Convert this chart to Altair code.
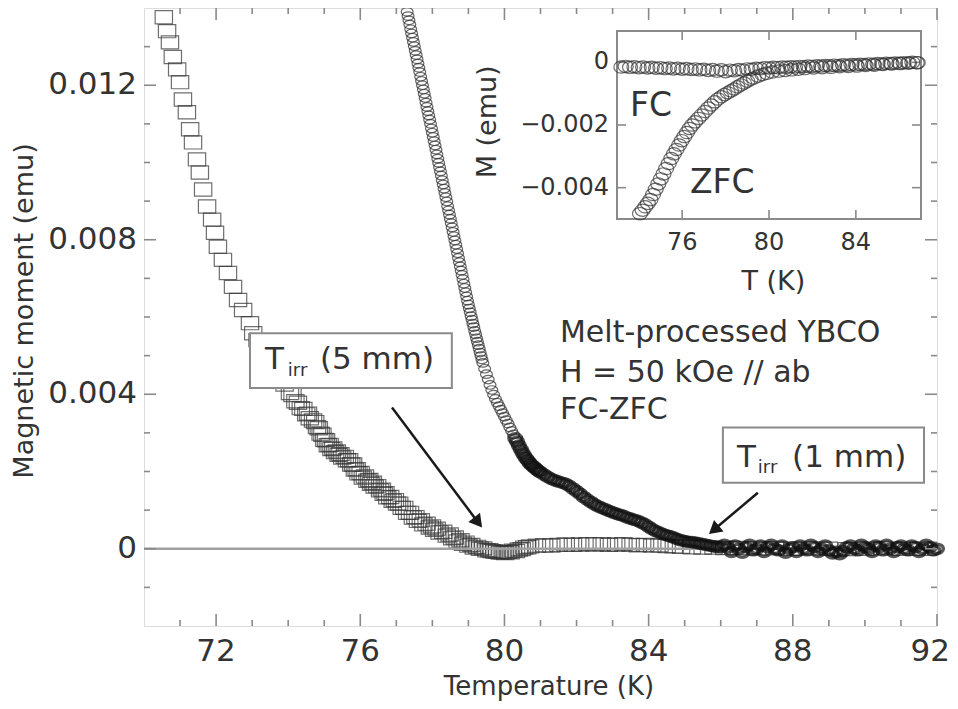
import altair as alt
import pandas as pd

# ---------------- data ----------------
# 5 mm sample (open squares): (T [K], M [emu])
sq_pts = [(70.55,0.01376),(70.64,0.01340),(70.72,0.01311),(70.80,0.01273),(70.92,0.01241),(71.00,0.01208),
(71.08,0.01163),(71.19,0.01130),(71.28,0.01086),(71.36,0.01052),(71.47,0.01008),(71.55,0.00974),(71.64,0.00930),
(71.75,0.00886),(71.89,0.00852),(71.97,0.00818),(72.05,0.00782),(72.19,0.00748),(72.33,0.00714),(72.47,0.00678),
(72.61,0.00644),(72.75,0.00618),(72.94,0.00584),(73.03,0.00558),(73.15,0.00540),(73.30,0.00518),(73.45,0.00494),
(73.60,0.00470),(73.75,0.00447),(73.90,0.00425),(74.05,0.00403),(74.20,0.00382),(74.35,0.00364),(74.50,0.00348),
(74.60,0.00338),(74.69,0.00332),(74.80,0.00315),(74.90,0.00298),(75.00,0.00282),(75.10,0.00268),(75.20,0.00258),
(75.30,0.00250),(75.40,0.00243),(75.50,0.00236),(75.63,0.00229),(75.75,0.00218),(75.85,0.00205),(75.95,0.00195),
(76.07,0.00184),(76.20,0.00176),(76.30,0.00168),(76.40,0.00161),(76.55,0.00151),(76.65,0.00142),(76.75,0.00133),
(76.90,0.00124),(77.02,0.00117),(77.15,0.00106),(77.30,0.00093),(77.46,0.00081),(77.60,0.00072),(77.75,0.00063),
(77.93,0.00055),(78.05,0.00049),(78.20,0.00042),(78.40,0.00034),(78.55,0.00027),(78.70,0.00019),(78.85,0.00013),
(79.00,0.00008),(79.15,0.00003),(79.32,0.00000),(79.50,-0.00004),(79.65,-0.00006),(79.79,-0.00008),(79.95,-0.00009),
(80.10,-0.00008),(80.24,-0.00005),(80.40,-0.00002),(80.55,0.00003),(80.71,0.00006),(80.90,0.00008),(81.10,0.00009),
(81.30,0.00008),(81.50,0.00010),(81.70,0.00011),(81.90,0.00010),(82.10,0.00011),(82.30,0.00012),(82.50,0.00011),
(82.70,0.00012),(82.90,0.00010),(83.10,0.00011),(83.30,0.00012),(83.50,0.00010),(83.70,0.00009),(83.90,0.00010),
(84.10,0.00008),(84.30,0.00009),(84.50,0.00007),(84.70,0.00006),(84.90,0.00005),(85.20,0.00004),(85.50,0.00003),
(85.80,0.00003),(86.10,0.00002),(86.50,0.00002),(87.00,0.00001),(87.50,0.00001),(88.00,0.00000),(88.50,0.00001),
(89.00,0.00000),(89.50,-0.00001),(90.00,0.00000),(90.50,0.00001),(91.00,0.00000),(91.50,0.00000),(92.00,0.00000),
# second pass of points in the dense, scattered part of the band
(74.12,0.00398),(74.27,0.00378),(74.42,0.00362),(74.55,0.00350),(74.75,0.00328),(74.85,0.00312),(74.95,0.00295),
(75.05,0.00281),(75.15,0.00269),(75.25,0.00260),(75.35,0.00252),(75.45,0.00245),(75.57,0.00238),(75.69,0.00229),
(75.80,0.00218),(75.90,0.00206),(76.01,0.00196),(76.13,0.00187),(76.25,0.00178),(76.35,0.00171),(76.47,0.00162),
(76.60,0.00153),(76.70,0.00144),(76.83,0.00134),(76.96,0.00126),(77.08,0.00117),(77.22,0.00106),(77.38,0.00093),
(77.53,0.00082),(77.68,0.00074),(77.84,0.00065),(77.99,0.00058),(78.12,0.00052),(78.30,0.00044),(78.48,0.00037),
(78.62,0.00029),(78.78,0.00022),(78.92,0.00016),(79.08,0.00010),(79.24,0.00005),(79.41,0.00001),(79.58,-0.00004),
(79.72,-0.00007),(79.87,-0.00010),(80.02,-0.00011),(80.17,-0.00009),(80.32,-0.00006),(80.48,-0.00001),(80.63,0.00004)]

# 1 mm sample (open circles), steep part
ci_steep = [(77.300,0.01390),(77.325,0.01379),(77.350,0.01368),(77.375,0.01357),(77.400,0.01345),(77.425,0.01334),
(77.450,0.01323),(77.475,0.01312),(77.500,0.01301),(77.525,0.01289),(77.550,0.01278),(77.575,0.01267),(77.600,0.01256),
(77.625,0.01245),(77.650,0.01234),(77.675,0.01222),(77.700,0.01211),(77.725,0.01200),(77.750,0.01189),(77.775,0.01178),
(77.800,0.01167),(77.825,0.01155),(77.850,0.01144),(77.875,0.01133),(77.900,0.01122),(77.925,0.01111),(77.950,0.01100),
(77.975,0.01088),(78.000,0.01077),(78.025,0.01066),(78.050,0.01055),(78.075,0.01044),(78.100,0.01033),(78.125,0.01021),
(78.150,0.01010),(78.175,0.00999),(78.200,0.00988),(78.225,0.00977),(78.250,0.00966),(78.275,0.00954),(78.300,0.00943),
(78.325,0.00932),(78.350,0.00921),(78.375,0.00910),(78.400,0.00899),(78.425,0.00887),(78.450,0.00876),(78.475,0.00865),
(78.500,0.00854),(78.525,0.00843),(78.550,0.00832),(78.575,0.00820),(78.600,0.00809),(78.625,0.00798),(78.650,0.00787),
(78.675,0.00776),(78.700,0.00765),(78.725,0.00753),(78.750,0.00742),(78.775,0.00731),(78.800,0.00720),(78.825,0.00709),
(78.850,0.00698),(78.875,0.00686),(78.900,0.00675),(78.925,0.00664),(78.950,0.00653),(78.975,0.00642),(79.000,0.00632),
(79.025,0.00622),(79.050,0.00612),(79.075,0.00602),(79.100,0.00593),(79.125,0.00583),(79.150,0.00574),(79.175,0.00564),
(79.200,0.00555),(79.225,0.00545),(79.250,0.00536),(79.275,0.00527),(79.300,0.00518),(79.325,0.00508),(79.350,0.00499),
(79.375,0.00490),(79.400,0.00481),(79.45,0.00466),(79.50,0.00452),(79.55,0.00438),(79.60,0.00424),(79.65,0.00411),
(79.70,0.00399),(79.75,0.00388),(79.80,0.00378),(79.85,0.00369),(79.90,0.00360),(79.95,0.00351),(80.00,0.00342),
(80.05,0.00333),(80.10,0.00324),(80.15,0.00314),(80.20,0.00305),(80.25,0.00296)]

# 1 mm sample, tail (dark dense band)
ci_tail = [(80.30,0.00286),(80.35,0.00277),(80.40,0.00267),(80.45,0.00258),(80.50,0.00249),(80.55,0.00241),
(80.60,0.00234),(80.65,0.00228),(80.70,0.00222),(80.75,0.00217),(80.80,0.00213),(80.85,0.00209),(80.90,0.00205),
(80.95,0.00201),(81.00,0.00198),(81.10,0.00192),(81.20,0.00186),(81.30,0.00181),(81.40,0.00177),(81.50,0.00174),
(81.60,0.00171),(81.70,0.00168),(81.80,0.00163),(81.90,0.00156),(82.00,0.00149),(82.10,0.00142),(82.20,0.00134),
(82.30,0.00127),(82.40,0.00121),(82.50,0.00115),(82.60,0.00110),(82.70,0.00106),(82.80,0.00102),(82.90,0.00098),
(83.00,0.00094),(83.10,0.00091),(83.20,0.00088),(83.30,0.00085),(83.40,0.00081),(83.50,0.00078),(83.60,0.00075),
(83.70,0.00072),(83.80,0.00068),(83.90,0.00063),(84.00,0.00057),(84.10,0.00051),(84.20,0.00046),(84.30,0.00042),
(84.40,0.00038),(84.50,0.00035),(84.60,0.00032),(84.70,0.00029),(84.80,0.00025),(84.90,0.00022),(85.00,0.00020),
(85.10,0.00018),(85.20,0.00017),(85.30,0.00016),(85.40,0.00014),(85.50,0.00012),(85.60,0.00010),(85.70,0.00008),
(85.80,0.00006),(85.90,0.00005),(86.00,0.00004),
(86.10,0.00010),(86.20,0.00003),(86.30,-0.00008),(86.40,0.00008),(86.50,0.00000),(86.60,-0.00010),(86.70,0.00004),
(86.80,0.00010),(86.90,-0.00004),(87.00,0.00000),(87.10,0.00008),(87.20,-0.00008),(87.30,0.00004),(87.40,0.00010),
(87.50,0.00000),(87.60,-0.00004),(87.70,0.00008),(87.80,-0.00010),(87.90,0.00000),(88.00,0.00004),(88.10,-0.00008),
(88.20,0.00008),(88.30,0.00000),(88.40,-0.00004),(88.50,0.00010),(88.60,0.00004),(88.70,-0.00008),(88.80,0.00000),
(88.90,0.00008),(89.00,-0.00004),(89.10,-0.00012),(89.20,-0.00008),(89.30,-0.00014),(89.40,-0.00006),(89.50,0.00004),
(89.60,0.00008),(89.70,0.00000),(89.80,-0.00004),(89.90,0.00010),(90.00,0.00004),(90.10,0.00000),(90.20,-0.00008),
(90.30,0.00008),(90.40,0.00004),(90.50,-0.00004),(90.60,0.00010),(90.70,0.00000),(90.80,-0.00008),(90.90,0.00004),
(91.00,0.00008),(91.10,0.00000),(91.20,-0.00004),(91.30,0.00008),(91.40,0.00004),(91.50,-0.00008),(91.60,0.00000),
(91.70,0.00010),(91.80,0.00004),(91.90,-0.00004),(92.00,0.00000)]

# inset: FC and ZFC curves of the 1 mm sample
fc_pts = [(73.2,-0.00015),(73.4,-0.00013),(73.6,-0.00016),(73.8,-0.00014),(74.0,-0.00017),(74.2,-0.00015),
(74.4,-0.00018),(74.6,-0.00016),(74.8,-0.00019),(75.0,-0.00017),(75.2,-0.00020),(75.4,-0.00018),(75.6,-0.00021),
(75.8,-0.00019),(76.0,-0.00022),(76.2,-0.00020),(76.4,-0.00023),(76.6,-0.00021),(76.8,-0.00024),(77.0,-0.00022),
(77.2,-0.00026),(77.4,-0.00023),(77.6,-0.00028),(77.8,-0.00024),(78.0,-0.00030),(78.2,-0.00025),(78.4,-0.00027),
(78.6,-0.00023),(78.8,-0.00025),(79.0,-0.00021),(79.2,-0.00022),(79.4,-0.00019),(79.6,-0.00020),(79.8,-0.00017),
(80.0,-0.00018),(80.2,-0.00016),(80.4,-0.00017),(80.6,-0.00015),(80.8,-0.00016),(81.0,-0.00014),(81.2,-0.00015),
(81.4,-0.00013),(81.6,-0.00014),(81.8,-0.00012),(82.0,-0.00013),(82.2,-0.00011),(82.4,-0.00012),(82.6,-0.00010),
(82.8,-0.00011),(83.0,-0.00009),(83.2,-0.00010),(83.4,-0.00008),(83.6,-0.00009),(83.8,-0.00007),(84.0,-0.00008),
(84.2,-0.00006),(84.4,-0.00007),(84.6,-0.00005),(84.8,-0.00006),(85.0,-0.00004),(85.2,-0.00005),(85.4,-0.00003),
(85.6,-0.00004),(85.8,-0.00002),(86.0,-0.00003),(86.2,-0.00001),(86.4,-0.00002),(86.6,0.00000),(86.8,-0.00001)]

zfc_pts = [(74.06,-0.00483),(74.18,-0.00472),(74.30,-0.00461),(74.42,-0.00450),(74.54,-0.00438),(74.66,-0.00422),
(74.78,-0.00405),(74.90,-0.00388),(75.02,-0.00372),(75.14,-0.00356),(75.26,-0.00339),(75.38,-0.00323),(75.50,-0.00307),
(75.62,-0.00292),(75.74,-0.00278),(75.86,-0.00264),(75.98,-0.00250),(76.10,-0.00237),(76.22,-0.00224),(76.34,-0.00211),
(76.46,-0.00200),(76.60,-0.00190),(76.75,-0.00179),(76.90,-0.00168),(77.05,-0.00157),(77.20,-0.00146),(77.35,-0.00136),
(77.50,-0.00126),(77.65,-0.00117),(77.80,-0.00110),(77.95,-0.00103),(78.10,-0.00097),(78.25,-0.00091),(78.40,-0.00085),
(78.55,-0.00078),(78.70,-0.00072),(78.85,-0.00066),(79.00,-0.00060),(79.15,-0.00054),(79.30,-0.00050),(79.50,-0.00044),
(79.70,-0.00039),(79.90,-0.00035),(80.15,-0.00031),(80.45,-0.00028),(80.75,-0.00026),(81.05,-0.00024),(81.35,-0.00022),
(81.65,-0.00020),(82.05,-0.00018),(82.45,-0.00017),(82.85,-0.00016),(83.25,-0.00014),(83.65,-0.00013),(84.05,-0.00012),
(84.45,-0.00010),(84.85,-0.00009),(85.25,-0.00007),(85.65,-0.00005),(86.05,-0.00004),(86.45,-0.00002),(86.85,-0.00001)]

# axes / ticks
x_major = [72, 76, 80, 84, 88, 92]
x_labels = ["72", "76", "80", "84", "88", "92"]
x_minor = [71, 73, 74, 75, 77, 78, 79, 81, 82, 83, 85, 86, 87, 89, 90, 91]
y_major = [0, 0.004, 0.008, 0.012]
y_labels = ["0", "0.004", "0.008", "0.012"]
y_minor = [-0.001, 0.001, 0.002, 0.003, 0.005, 0.006, 0.007, 0.009, 0.010, 0.011, 0.013]
x_title = "Temperature (K)"
y_title = "Magnetic moment (emu)"
inset_x_ticks = [76, 80, 84]
inset_x_labels = ["76", "80", "84"]
inset_y_ticks = [0, -0.002, -0.004]
inset_y_labels = ["0", "\u22120.002", "\u22120.004"]

# annotations (data coordinates)
info_lines = ["Melt-processed YBCO", "H = 50 kOe // ab", "FC-ZFC"]
info_M = [0.00558, 0.00454, 0.00358]
box_x1 = [72.94, 86.06]
box_x2 = [78.54, 91.64]
box_y1 = [0.00416, 0.00171]
box_y2 = [0.00558, 0.00314]
box_T_pos = [(73.36, 0.00488), (86.45, 0.00236)]
box_sub_pos = [(73.99, 0.00460), (87.03, 0.00208)]
box_rest_pos = [(74.88, 0.00488), (87.98, 0.00236)]
box_rest_text = ["(5 mm)", "(1 mm)"]
arrow5 = {"x1": [76.88], "y1": [0.00366], "x2": [79.27], "y2": [0.00068]}
arrow1 = {"x1": [87.03], "y1": [0.00145], "x2": [85.81], "y2": [0.00049]}

# ---------------- chart ----------------
W, H = 793, 618
PAD_R = 13
FONT = "DejaVu Sans"
TXT = "#333333"
GRAY = "#8a8a8a"

xs = alt.Scale(domain=[70, 92], nice=False, zero=False)
ys = alt.Scale(domain=[-0.002, 0.014], nice=False, zero=False)

# inset placed in a sub-rectangle of the plot (pixels, relative to plot origin)
IX0, IX1, IY0, IY1 = 473, 777, 23, 211
TM_EXPR = f"70 + ({IX0} + (datum.T - 73) / 14 * {IX1 - IX0}) / {W} * 22"
MM_EXPR = f"0.014 - ({IY0} + (0.001 - datum.M) / 0.006 * {IY1 - IY0}) / {H} * 0.016"

RECT = "M-1,-0.76L1,-0.76L1,0.76L-1,0.76Z"
ELL_MAIN = "M-1,0A1,0.72,0,1,1,1,0A1,0.72,0,1,1,-1,0Z"
ELL_INS = "M-1,0A1,0.82,0,1,1,1,0A1,0.82,0,1,1,-1,0Z"


def X(f="T"):
    return alt.X(f"{f}:Q", scale=xs, axis=None)


def Y(f="M"):
    return alt.Y(f"{f}:Q", scale=ys, axis=None)


def inset_chart(df):
    return alt.Chart(df).transform_calculate(Tm=TM_EXPR, Mm=MM_EXPR)


def txt(**kw):
    base = dict(font=FONT, color=TXT, baseline="middle")
    base.update(kw)
    return base


sq = pd.DataFrame(sq_pts, columns=["T", "M"])
cs = pd.DataFrame(ci_steep, columns=["T", "M"])
ct = pd.DataFrame(ci_tail, columns=["T", "M"])
fc = pd.DataFrame(fc_pts, columns=["T", "M"])
zfc = pd.DataFrame(zfc_pts, columns=["T", "M"])

squares = alt.Chart(sq).mark_point(shape=RECT, size=300, filled=False, stroke="#333333",
                                   strokeWidth=1.2, clip=True).encode(x=X(), y=Y())
zero = alt.Chart(pd.DataFrame({"M": [0]})).mark_rule(color="#a0a0a0", strokeWidth=2.5).encode(y=Y())
circ_steep = alt.Chart(cs).mark_point(shape=ELL_MAIN, size=140, filled=False, stroke="#2a2a2a",
                                      strokeWidth=1.2, clip=True).encode(x=X(), y=Y())
circ_tail = alt.Chart(ct).mark_point(shape=ELL_MAIN, size=165, filled=False, stroke="#111111",
                                     strokeWidth=3.4).encode(x=X(), y=Y())

# main axis labels and titles (text marks positioned through the scales)
xlab_df = pd.DataFrame({"T": x_major, "s": x_labels})
xlab = alt.Chart(xlab_df[xlab_df["T"] < 92]).mark_text(
    **txt(fontSize=31)).encode(x=X(), y=alt.value(H + 26), text="s:N")
xlab_last = alt.Chart(xlab_df[xlab_df["T"] == 92]).mark_text(
    **txt(fontSize=31, align="right")).encode(x=alt.value(W + PAD_R), y=alt.value(H + 26), text="s:N")
ylab = alt.Chart(pd.DataFrame({"M": y_major, "s": y_labels})).mark_text(
    **txt(fontSize=31, align="right")).encode(y=Y(), x=alt.value(-7), text="s:N")
xtit = alt.Chart(pd.DataFrame({"s": [x_title]})).mark_text(**txt(fontSize=26)).encode(
    x=alt.value(405), y=alt.value(H + 61), text="s:N")
ytit = alt.Chart(pd.DataFrame({"s": [y_title]})).mark_text(**txt(fontSize=27, angle=270)).encode(
    x=alt.value(-119), y=alt.value(303), text="s:N")


def tick_layers(vals, length, xaxis, inset=False):
    df = pd.DataFrame({"T": vals, "M": vals})
    base = inset_chart(df) if inset else alt.Chart(df)
    fx, fy = ("Tm", "Mm") if inset else ("T", "M")
    if inset:
        x0, x1, y0, y1 = IX0, IX1, IY0, IY1
    else:
        x0, x1, y0, y1 = 0, W, 0, H
    out = []
    if xaxis:
        for a, b in [(y1, y1 - length), (y0, y0 + length)]:
            out.append(base.mark_rule(color=GRAY, strokeWidth=1.6).encode(
                x=X(fx), y=alt.value(a), y2=alt.value(b)))
    else:
        for a, b in [(x0, x0 + length), (x1, x1 - length)]:
            out.append(base.mark_rule(color=GRAY, strokeWidth=1.6).encode(
                y=Y(fy), x=alt.value(a), x2=alt.value(b)))
    return out


main_ticks = (tick_layers(x_major, 12, True) + tick_layers(x_minor, 6, True)
              + tick_layers(y_major, 12, False) + tick_layers(y_minor, 6, False))

boxes = alt.Chart(pd.DataFrame({"x1": box_x1, "x2": box_x2, "y1": box_y1, "y2": box_y2})).mark_rect(
    fill="white", stroke=GRAY, strokeWidth=2).encode(x=X("x1"), x2="x2:Q", y=Y("y1"), y2="y2:Q")


def text_layer(pos, texts, size):
    df = pd.DataFrame({"T": [p[0] for p in pos], "M": [p[1] for p in pos], "s": texts})
    return alt.Chart(df).mark_text(**txt(fontSize=size, align="left")).encode(x=X(), y=Y(), text="s:N")


box_t = text_layer(box_T_pos, ["T", "T"], 31)
box_s = text_layer(box_sub_pos, ["irr", "irr"], 18)
box_r = text_layer(box_rest_pos, box_rest_text, 31)
info = text_layer([(81.54, m) for m in info_M], info_lines, 30)


def arrow(d, ang):
    df = pd.DataFrame(d)
    line = alt.Chart(df).mark_rule(color="#1a1a1a", strokeWidth=2.5).encode(
        x=X("x1"), x2="x2:Q", y=Y("y1"), y2="y2:Q")
    head = alt.Chart(df).mark_point(shape="triangle-up", filled=True, size=220, color="#1a1a1a",
                                    opacity=1, angle=ang).encode(x=X("x2"), y=Y("y2"))
    return [line, head]


# ---------------- inset layers ----------------
frame_df = pd.DataFrame({"T": [73], "M": [-0.005], "T2": [87], "M2": [0.001]})
frame = (alt.Chart(frame_df)
         .transform_calculate(Tm=TM_EXPR, Mm=MM_EXPR,
                              Tm2=TM_EXPR.replace("datum.T", "datum.T2"),
                              Mm2=MM_EXPR.replace("datum.M", "datum.M2"))
         .mark_rect(fill="white", stroke=GRAY, strokeWidth=2)
         .encode(x=X("Tm"), x2="Tm2:Q", y=Y("Mm"), y2="Mm2:Q"))
ins_ticks = tick_layers(inset_x_ticks, 9, True, inset=True) + tick_layers(inset_y_ticks, 9, False, inset=True)
fc_m = inset_chart(fc).mark_point(shape=ELL_INS, size=225, filled=False, stroke="#333333",
                                  strokeWidth=1.2).encode(x=X("Tm"), y=Y("Mm"))
zfc_m = inset_chart(zfc).mark_point(shape=ELL_INS, size=225, filled=False, stroke="#333333",
                                    strokeWidth=1.2).encode(x=X("Tm"), y=Y("Mm"))
ixl = inset_chart(pd.DataFrame({"T": inset_x_ticks, "M": [0] * 3, "s": inset_x_labels})).mark_text(
    **txt(fontSize=24)).encode(x=X("Tm"), y=alt.value(IY1 + 24), text="s:N")
iyl = inset_chart(pd.DataFrame({"T": [73] * 3, "M": inset_y_ticks, "s": inset_y_labels})).mark_text(
    **txt(fontSize=24, align="right")).encode(y=Y("Mm"), x=alt.value(IX0 - 8), text="s:N")
ixt = inset_chart(pd.DataFrame({"T": [80.2], "M": [0], "s": ["T (K)"]})).mark_text(
    **txt(fontSize=27)).encode(x=X("Tm"), y=alt.value(IY1 + 63), text="s:N")
iyt = inset_chart(pd.DataFrame({"T": [73], "M": [-0.0019], "s": ["M (emu)"]})).mark_text(
    **txt(fontSize=27, angle=270)).encode(x=alt.value(IX0 - 129), y=Y("Mm"), text="s:N")
fc_lab = inset_chart(pd.DataFrame({"T": [73.6], "M": [-0.00138], "s": ["FC"]})).mark_text(
    **txt(fontSize=33, align="left")).encode(x=X("Tm"), y=Y("Mm"), text="s:N")
zfc_lab = inset_chart(pd.DataFrame({"T": [76.36], "M": [-0.00384], "s": ["ZFC"]})).mark_text(
    **txt(fontSize=33, align="left")).encode(x=X("Tm"), y=Y("Mm"), text="s:N")

chart = alt.layer(
    squares, zero, circ_steep, circ_tail, *main_ticks, xlab, xlab_last, ylab, xtit, ytit,
    boxes, box_t, box_s, box_r, info,
    *arrow(arrow5, 142), *arrow(arrow1, 230),
    frame, *ins_ticks, fc_m, zfc_m, ixl, iyl, ixt, iyt, fc_lab, zfc_lab,
).properties(
    width=W, height=H, autosize=alt.AutoSizeParams(type="none"),
    padding={"left": 136, "top": 0, "right": PAD_R, "bottom": 75},
    background="white",
).configure_view(stroke=GRAY, strokeWidth=2).configure(font=FONT)

chart.save("out.html", embed_options={"renderer": "svg", "actions": False})
